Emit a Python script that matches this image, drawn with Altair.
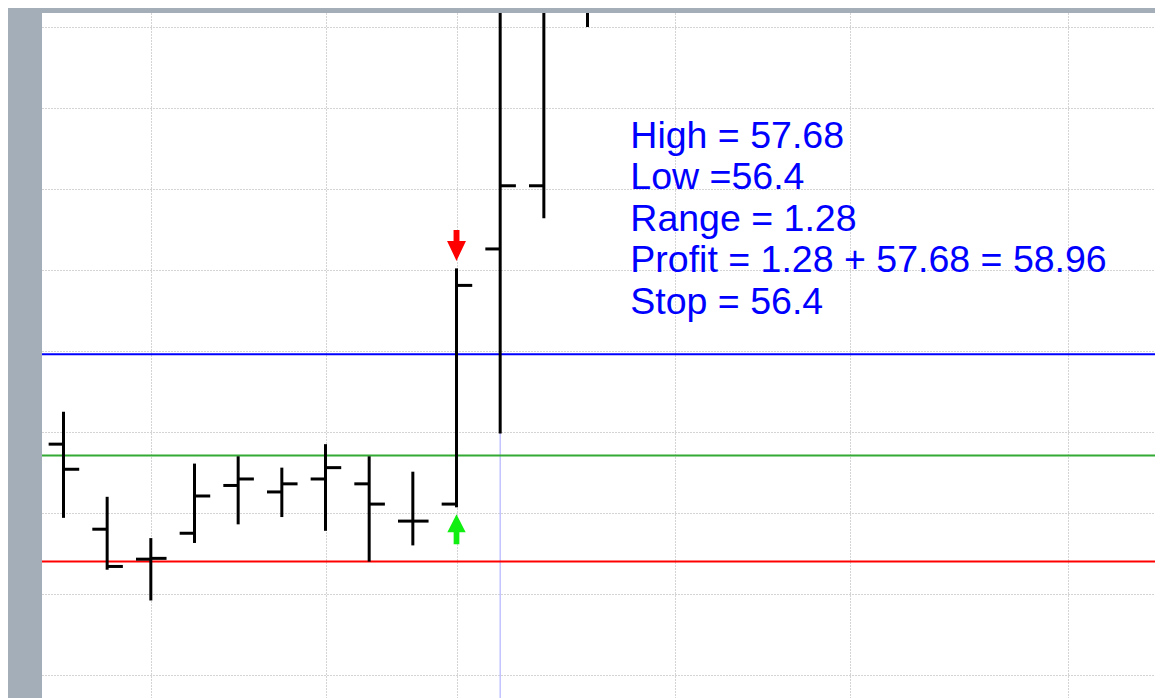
import altair as alt
import pandas as pd

# ---- data ----
bar_index = list(range(13))
opens  = [57.85, 56.80, 56.43, 56.75, 57.34, 57.26, 57.42, 57.36, 56.90, 57.11, 60.26, 61.04, 63.80]
highs  = [58.25, 57.20, 56.69, 57.61, 57.70, 57.56, 57.85, 57.70, 57.51, 60.02, 64.00, 64.20, 65.00]
lows   = [56.94, 56.30, 55.92, 56.63, 56.86, 56.95, 56.78, 56.40, 56.60, 57.07, 57.98, 60.64, 63.00]
closes = [57.54, 56.34, 56.44, 57.21, 57.42, 57.36, 57.56, 57.11, 56.90, 59.81, 61.04, 63.40, 64.50]

level_names  = ["Target", "Range high", "Stop"]
level_prices = [58.96, 57.71, 56.40]
level_colors = ["#0000ff", "#33aa33", "#ff0000"]

signal_bar = 9
entry_bar = 10
x_grid_values = [2, 6, 9, 14, 18, 23]
y_grid_values = [55, 56, 57, 58, 59, 60, 61, 62, 63]

note_lines = [
    "High = 57.68",
    "Low =56.4",
    "Range = 1.28",
    "Profit = 1.28 + 57.68 = 58.96",
    "Stop = 56.4",
]

bars = pd.DataFrame({"i": bar_index, "open": opens, "high": highs, "low": lows, "close": closes})
levels = pd.DataFrame({"name": level_names, "price": level_prices, "color": level_colors})
one = pd.DataFrame({"k": [0]})

x_scale = alt.Scale(domain=[-0.492, 24.995], nice=False, zero=False)
y_scale = alt.Scale(domain=[54.716, 63.173], nice=False, zero=False)
grid_kw = dict(grid=True, labels=False, ticks=False, domain=False, title=None,
               gridColor="#a8a8a8", gridDash=[1, 2], gridWidth=1)
x_axis = alt.Axis(values=x_grid_values, **grid_kw)
y_axis = alt.Axis(values=y_grid_values, **grid_kw)


def X(field=None, **kw):
    if field is None:
        return alt.X(scale=x_scale, axis=x_axis, **kw)
    return alt.X(field, scale=x_scale, axis=x_axis, **kw)


def Y(field=None, **kw):
    if field is None:
        return alt.Y(scale=y_scale, axis=y_axis, **kw)
    return alt.Y(field, scale=y_scale, axis=y_axis, **kw)


entry_line = alt.Chart(one).mark_rule(color="#b4b4ff", strokeWidth=1.2).encode(
    x=X(datum=entry_bar, type="quantitative")
)

level_lines = alt.Chart(levels).mark_rule(strokeWidth=2).encode(
    y=Y("price:Q"),
    color=alt.Color("color:N", scale=None),
)

hl = alt.Chart(bars).mark_rule(color="black", strokeWidth=3, clip=True).encode(
    x=X("i:Q"), y=Y("low:Q"), y2="high:Q"
)
open_tick = alt.Chart(bars).transform_calculate(xo="datum.i - 0.34").mark_rule(
    color="black", strokeWidth=3, clip=True
).encode(x=X("xo:Q"), x2="i:Q", y=Y("open:Q"))
close_tick = alt.Chart(bars).transform_calculate(xc="datum.i + 0.36").mark_rule(
    color="black", strokeWidth=3, clip=True
).encode(x=X("i:Q"), x2="xc:Q", y=Y("close:Q"))

down_arrow = "M-0.19,-1L0.19,-1L0.19,-0.29L0.61,-0.29L0,1L-0.61,-0.29L-0.19,-0.29Z"
up_arrow = "M-0.19,1L0.19,1L0.19,0.2L0.61,0.2L0,-1L-0.61,0.2L-0.19,0.2Z"

sig = bars[bars["i"] == signal_bar]
red_arrow = alt.Chart(sig).mark_point(
    shape=down_arrow, filled=True, color="#ff0000", size=961, opacity=1, strokeWidth=0, yOffset=-23
).encode(x=X("i:Q"), y=Y("high:Q"))
green_arrow = alt.Chart(sig).mark_point(
    shape=up_arrow, filled=True, color="#11ee11", size=900, opacity=1, strokeWidth=0, yOffset=22
).encode(x=X("i:Q"), y=Y("low:Q"))

note = alt.Chart(one).mark_text(
    text=note_lines, align="left", baseline="alphabetic", font="Liberation Sans",
    fontSize=37.5, color="#0000ff", lineHeight=41.5
).encode(
    x=X(datum=12.98, type="quantitative"),
    y=Y(datum=61.51, type="quantitative"),
)

chart = alt.layer(
    entry_line, level_lines, hl, open_tick, close_tick, red_arrow, green_arrow, note
).properties(
    width=1113, height=685,
    background="#a4aeb8",
    padding={"left": 34, "top": 5, "right": 0, "bottom": 0},
    autosize=alt.AutoSizeParams(type="none"),
).configure_view(fill="white", stroke=None)

chart.save("out.html", embed_options={"renderer": "svg", "actions": False})
